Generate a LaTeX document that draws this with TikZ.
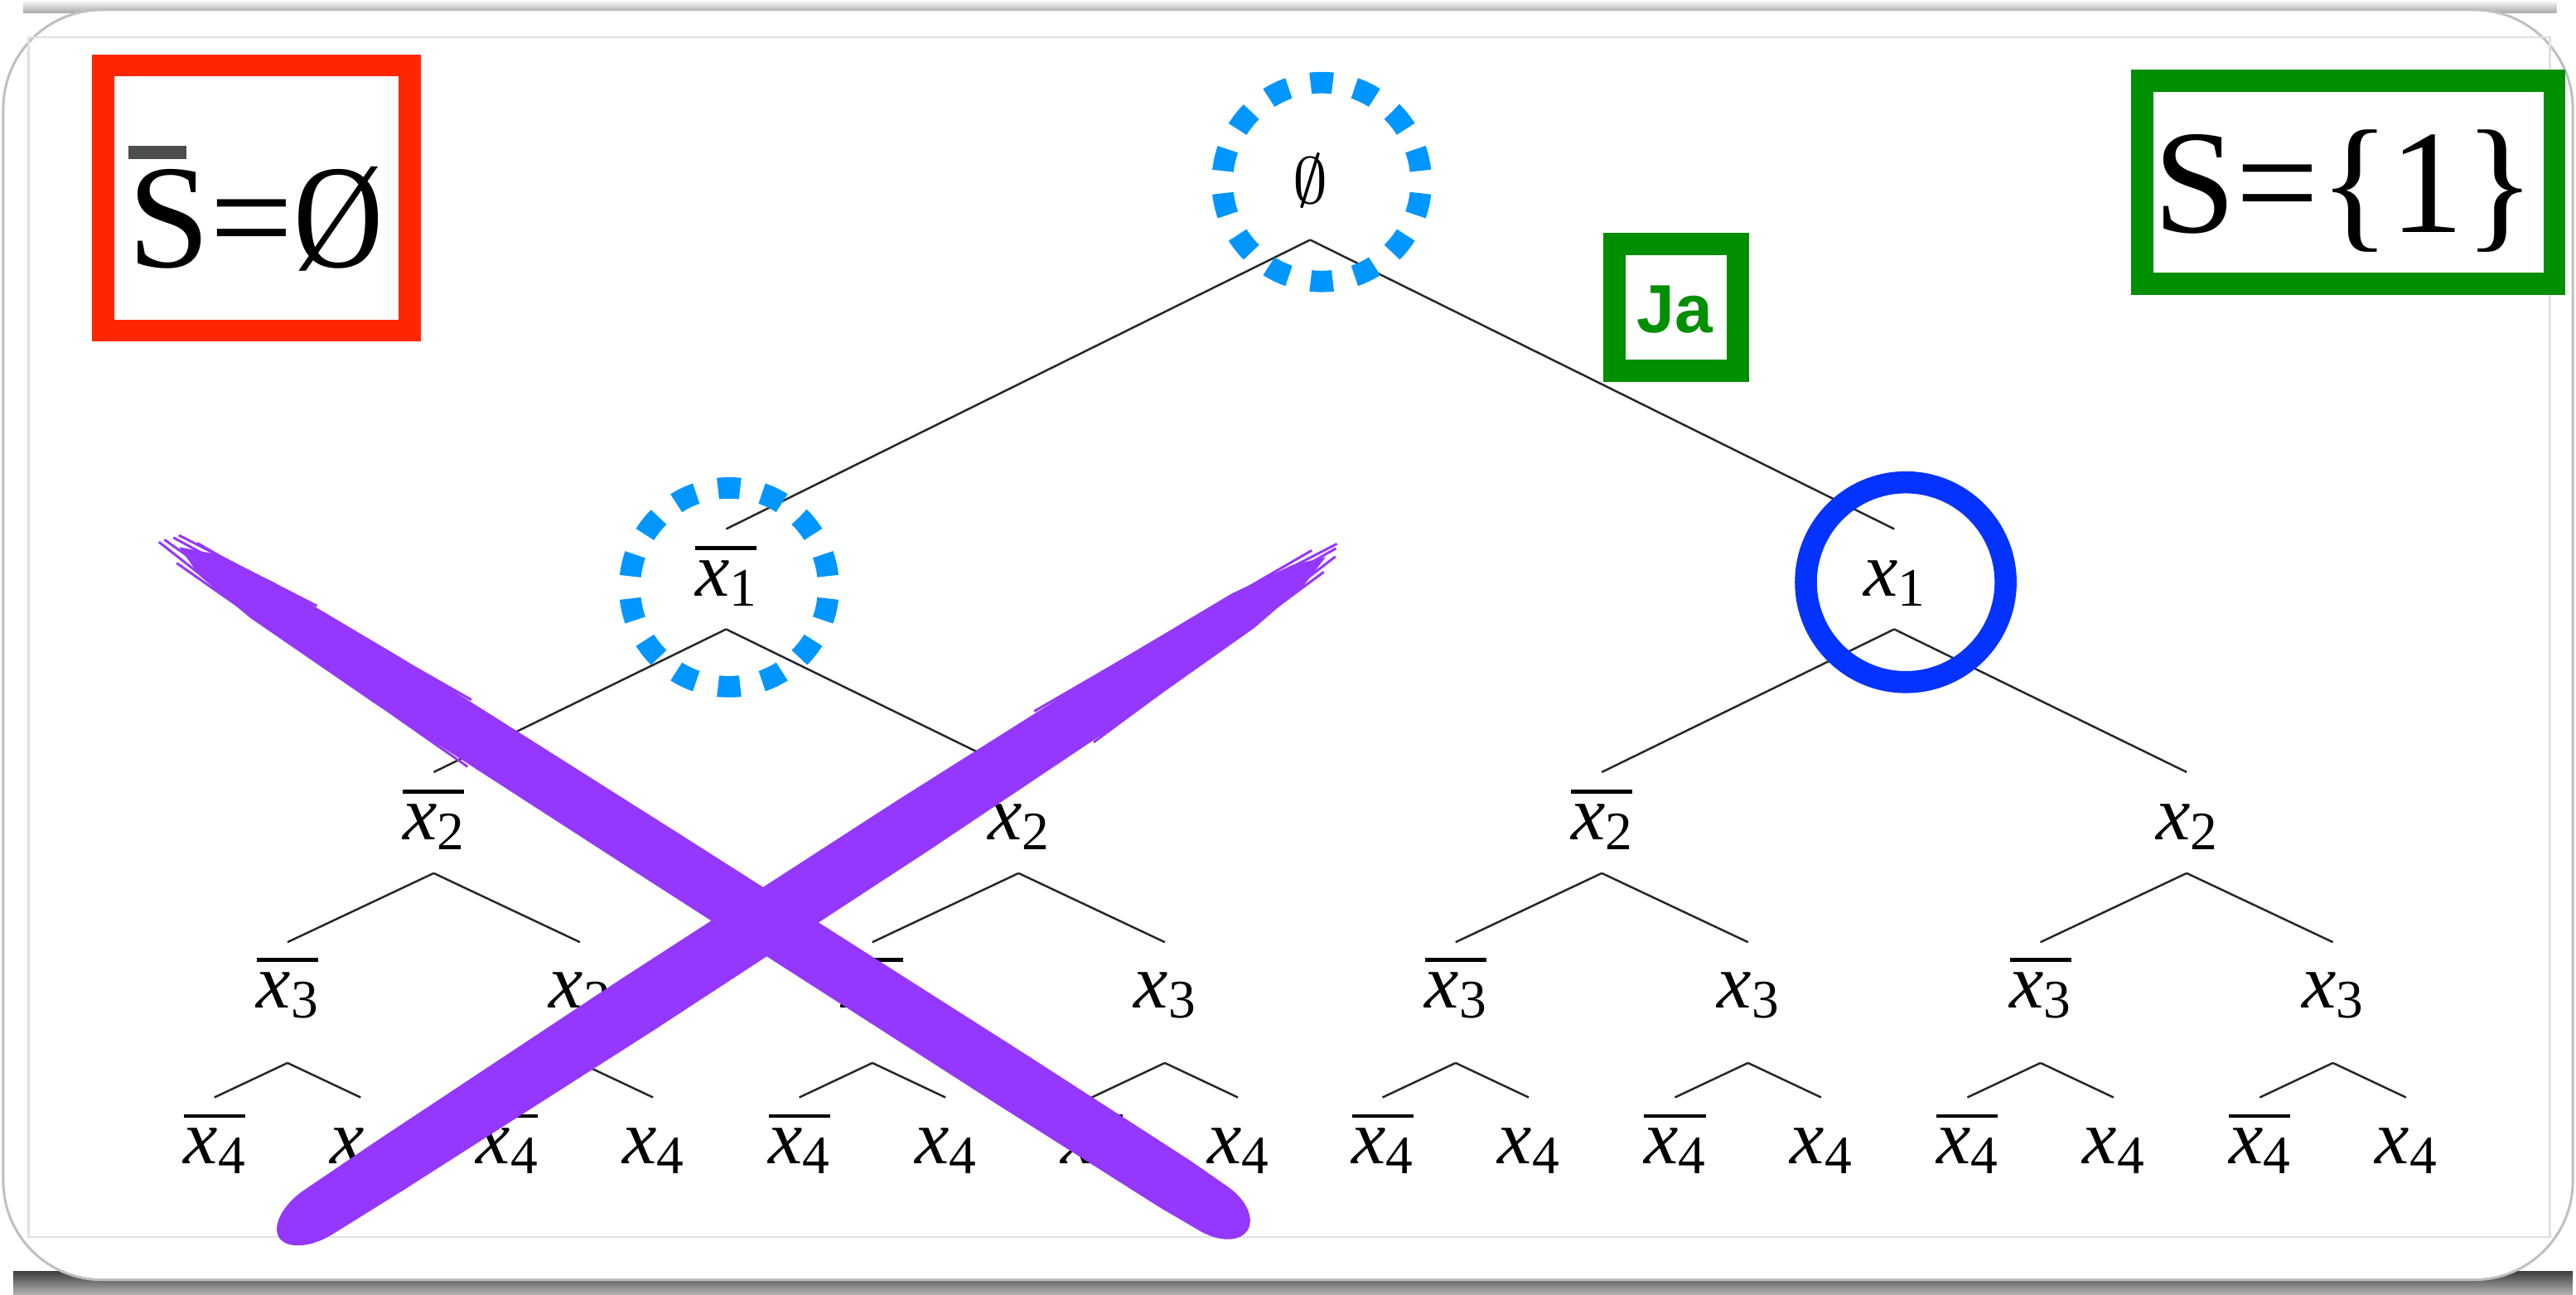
\documentclass[tikz,border=0pt]{standalone}
\usepackage{fontspec}
\usepackage{graphicx}
\setmainfont{Liberation Serif}
\newfontfamily\jafont{Liberation Sans}
\definecolor{xpurple}{RGB}{148,55,255}
\definecolor{xblue}{RGB}{4,51,255}
\definecolor{lblue}{RGB}{0,150,255}
\definecolor{xred}{RGB}{255,38,0}
\definecolor{xgreen}{RGB}{0,143,0}
\definecolor{bargray}{RGB}{77,77,77}
\newcommand\xv[1]{\textit{x}\raisebox{-1.2pt}{\fontsize{6.6}{7}\selectfont #1}}
\newcommand\xb[1]{\vbox{\hrule height 0.47pt\kern 1.3pt\hbox{\xv{#1}}}}
\tikzset{
 lab/.style={inner sep=0pt, anchor=base, font=\fontsize{9.4}{11}\selectfont, text height=8pt},
 edge/.style={draw=black!85, line width=0.25pt},
 dashcirc/.style={draw=lblue, line width=2.6pt, dash pattern=on 2.7pt off 2.73pt, dash phase=4.064pt},
 bluecirc/.style={draw=xblue, line width=2.68pt},
 framebox/.style={line width=2.7pt},
 xstroke/.style={fill=xpurple},
 fiber/.style={draw=xpurple, line width=0.3pt},
 bigtext/.style={inner sep=0pt, font=\fontsize{18}{20}\selectfont},
}
\begin{document}
\begin{tikzpicture}[x=0.2pt,y=-0.2pt]
\useasboundingbox (0,0) rectangle (1568,788);
% background, card and shadow
\fill[white] (0,0) rectangle (1568,788);
\shade[top color=black!75, bottom color=black!30] (8,774) rectangle (1566,788);
\shade[top color=white, bottom color=black!35] (14,0) rectangle (1556,8);
\filldraw[fill=white, draw=black!25, line width=0.3pt, rounded corners=12] (2,6) rectangle (1566,779);
\draw[black!12, line width=0.25pt] (17.4,22.7) rectangle (1552,753);
% boxes
\draw[framebox, draw=xred] (62.8,39.8) rectangle (249.2,201.2);
\fill[bargray] (78.3,88.8) rectangle (113.6,96.7);
\node[bigtext, anchor=base west] (sbar) at (77,162.5) {S=\scalebox{0.84}[1]{Ø}};
\draw[framebox, draw=xgreen] (1303.8,49.2) rectangle (1554.9,172.6);
\node[bigtext, anchor=base] (sset) at (1427,141.7) {S=\{1\}};
\draw[framebox, draw=xgreen] (982.5,148.5) rectangle (1057.7,225.8);
\node[inner sep=0pt, anchor=base, text=xgreen, font=\fontsize{8.3}{10}\selectfont\jafont\bfseries] (ja) at (1019.5,202.6) {Ja};
% tree
\node[inner sep=0pt, anchor=base, font=\fontsize{8}{10}\selectfont, text depth=4.24pt] (L0-1) at (797.5,123.8) {$\emptyset$};
\foreach \x [count=\i] in {442,1153}{
  \node[lab, text depth=3.8pt] (L1-\i) at (\x,363) {\ifodd\i\relax\xb{1}\else\xv{1}\fi};
  \draw[edge] (L0-1.south) -- (L1-\i.north);
}
\foreach \x [count=\i] in {264,620,975,1331}{
  \pgfmathtruncatemacro\p{(\i+1)/2}
  \node[lab, text depth=3.9pt] (L2-\i) at (\x,511) {\ifodd\i\relax\xb{2}\else\xv{2}\fi};
  \draw[edge] (L1-\p.south) -- (L2-\i.north);
}
\foreach \x [count=\i] in {175,353,531,709,886,1064,1242,1420}{
  \pgfmathtruncatemacro\p{(\i+1)/2}
  \node[lab, text height=7.8pt, text depth=6.5pt] (L3-\i) at (\x,613.5) {\ifodd\i\relax\xb{3}\else\xv{3}\fi};
  \draw[edge] (L2-\p.south) -- (L3-\i.north);
}
\foreach \x [count=\i] in {130.5,219.5,308.5,397.5,486.5,575.5,664.5,753.5,841.5,930.5,1019.5,1108.5,1197.5,1286.5,1375.5,1464.5}{
  \pgfmathtruncatemacro\p{(\i+1)/2}
  \node[lab, text height=7.9pt, text depth=1pt] (L4-\i) at (\x,708.5) {\ifodd\i\relax\xb{4}\else\xv{4}\fi};
  \draw[edge] (L3-\p.south) -- (L4-\i.north);
}
% circles
\draw[dashcirc] (804.5,110.8) circle (60.5);
\draw[dashcirc] (443.8,357.5) circle (60.5);
\draw[bluecirc] (1160,354.4) circle (60.8);
% purple X, stroke A
\begin{scope}[shift={(109,333)}, rotate=-32.60]
\fill[xstroke] (0,0) -- (20,8) -- (60,13) -- (150,16) -- (350,17) -- (600,17.5) -- (720,17) -- (745,16)
  .. controls (762,16) and (772,8) .. (772,0) .. controls (772,-8) and (762,-16) .. (745,-16)
  -- (720,-17) -- (600,-17.5) -- (350,-17) -- (150,-16) -- (60,-13) -- (20,-8) -- cycle;
\draw[fiber] (-10,1) -- (150,9);
\draw[fiber] (-6,-3) -- (130,-13);
\draw[fiber] (4,9) -- (220,18);
\draw[fiber] (8,-8) -- (200,-17.5);
\draw[fiber] (-12,4) -- (60,11);
\draw[fiber] (-4,-6) -- (90,-15);
\end{scope}
% purple X, stroke B
\begin{scope}[shift={(807,339)}, rotate=213.04]
\fill[xstroke] (0,0) -- (20,7) -- (60,12.5) -- (150,16) -- (300,18) -- (500,18.5) -- (680,17) -- (730,16)
  .. controls (748,16) and (760,8) .. (760,0) .. controls (760,-8) and (748,-16) .. (730,-16)
  -- (680,-17) -- (500,-18.5) -- (300,-18) -- (150,-16) -- (60,-12.5) -- (20,-7) -- cycle;
\draw[fiber] (-8,1) -- (140,10);
\draw[fiber] (-5,-3) -- (120,-13);
\draw[fiber] (5,8) -- (200,18);
\draw[fiber] (6,-7) -- (180,-17.5);
\draw[fiber] (-10,3) -- (70,11);
\end{scope}
\end{tikzpicture}
\end{document}
